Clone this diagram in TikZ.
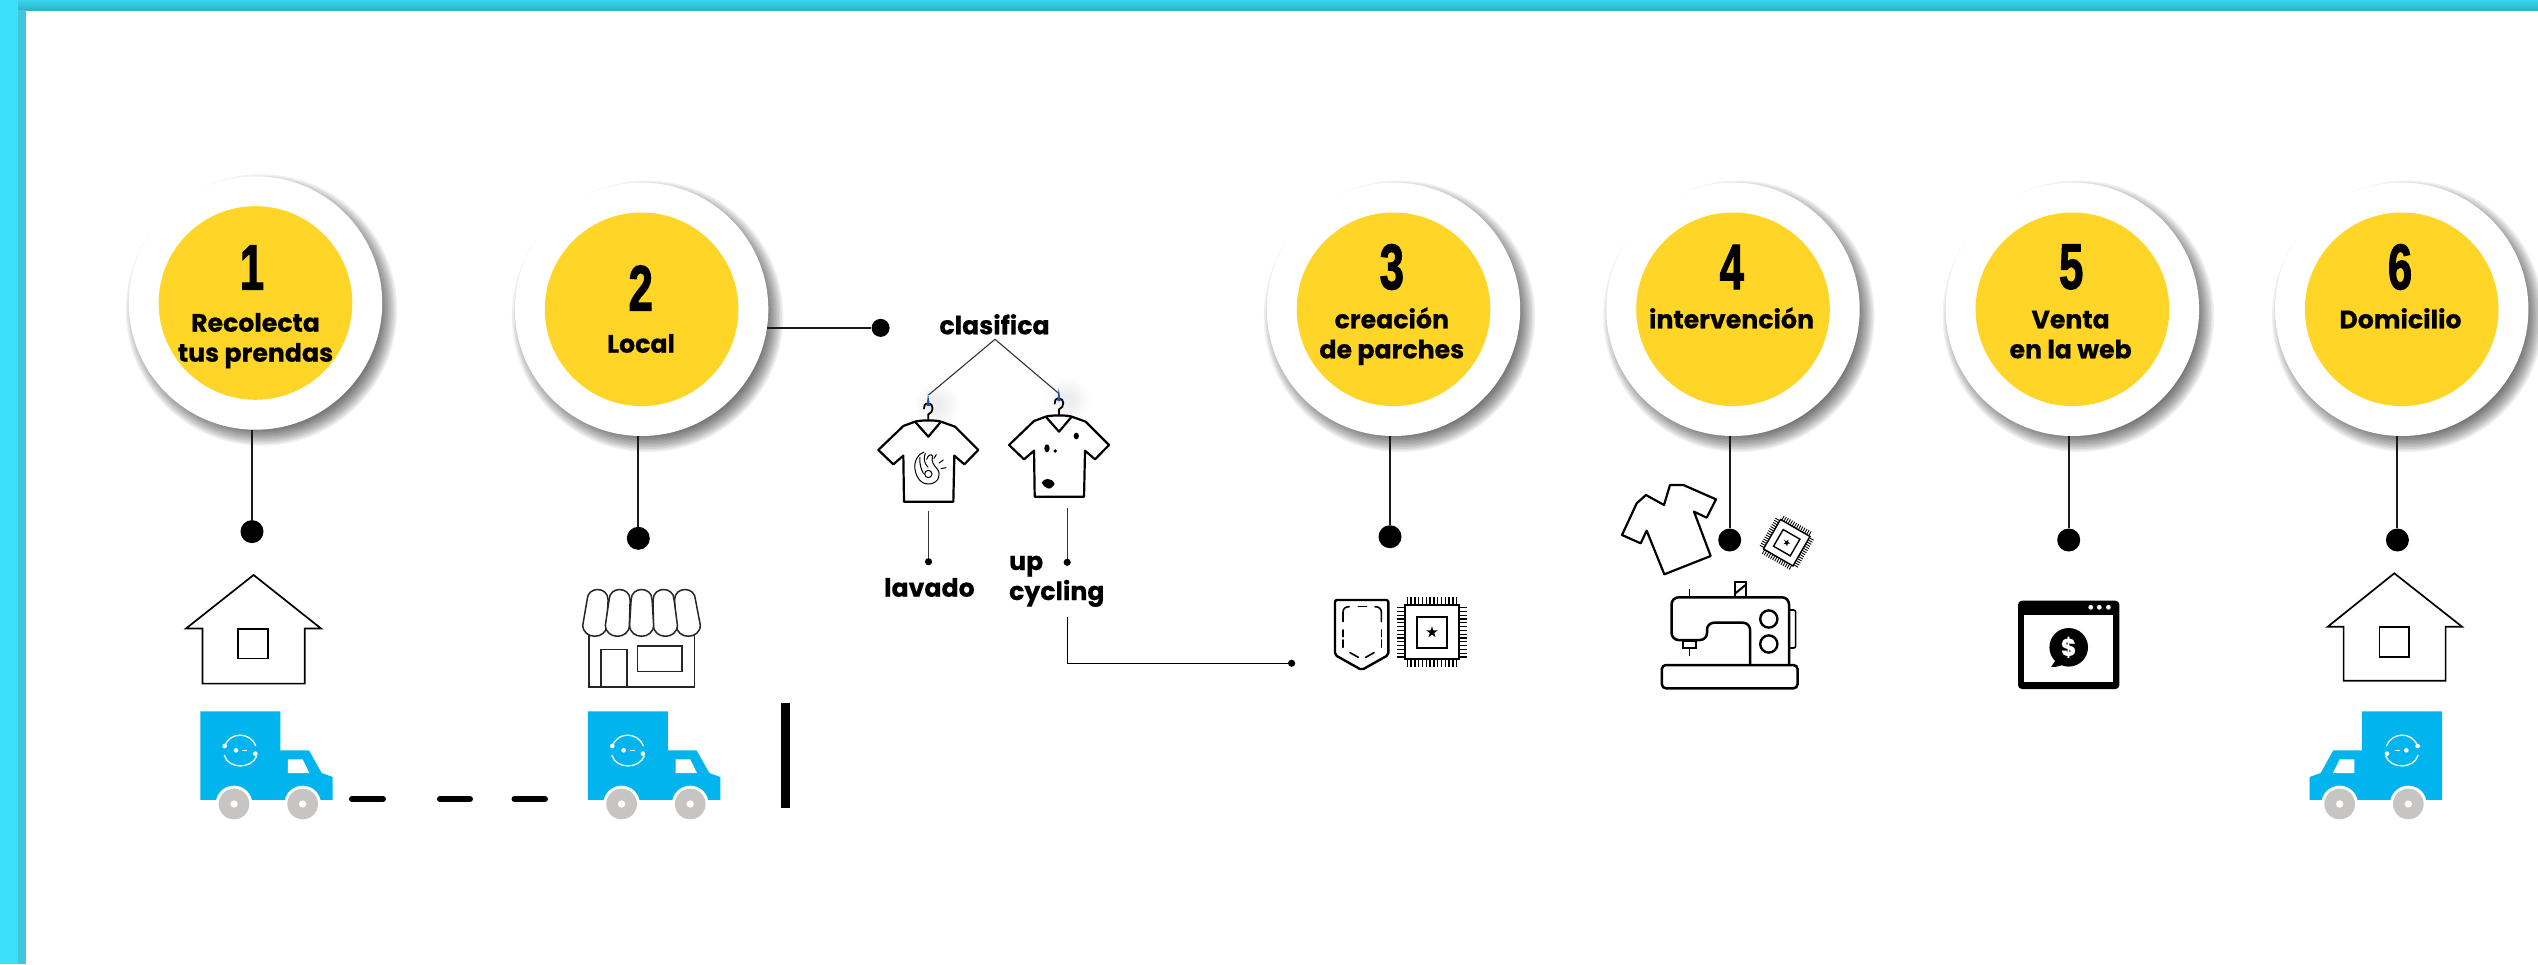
\documentclass[tikz,border=0pt]{standalone}
\usepackage{fontspec}
\setmainfont{Poppins}[BoldFeatures={FakeBold=.5}]
\newfontfamily\digitfont[BoldFeatures={FakeBold=2.2}]{Liberation Sans}
\definecolor{yel}{HTML}{FFD527}
\definecolor{band}{HTML}{3BDFF7}
\definecolor{bandd}{HTML}{3DC6DE}
\definecolor{bandtop}{HTML}{3AD4EC}
\definecolor{bandbot}{HTML}{2CB4CB}
\definecolor{truckblue}{HTML}{00B4EE}
\definecolor{wheel}{HTML}{C6C5C4}
\definecolor{hook}{HTML}{1F4FA8}
\tikzset{
  outer/.style={circle,fill=white,minimum size=253.4pt,inner sep=0pt},
  inner/.style={circle,fill=yel,minimum size=193.6pt,inner sep=0pt},
  bigdot/.style={circle,fill=black,minimum size=23pt,inner sep=0pt},
  middot/.style={circle,fill=black,minimum size=18pt,inner sep=0pt},
  smalldot/.style={circle,fill=black,minimum size=7.2pt,inner sep=0pt},
  num/.style={inner sep=0pt,anchor=center,font=\digitfont\bfseries\fontsize{64}{64}\selectfont},
  lab/.style={inner sep=0pt,anchor=base,align=center,font=\bfseries\fontsize{25.2}{30}\selectfont},
  stem/.style={line width=2pt,black!90},
  thin line/.style={line width=1.1pt,black!80},
  icon/.style={line width=2.2pt,black,line join=round},
  pics/shadow/.style={code={
    \foreach \k in {-9,-7.5,...,9}{\fill[black,opacity=.06] (6,7) circle[radius=126.7+\k];}
  }},
  pics/halo/.style={code={
    \foreach \k in {6,8,...,22}{\fill[black,opacity=.006] (0,0) circle[radius=\k];}
  }},
  pics/truck/.style={code={
    \begin{scope}[scale=.3333]
    \fill[truckblue] (121,94) -- (361,94) -- (361,211) -- (447,211) -- (485,279) -- (518,291) -- (518,360) -- (121,360) -- cycle;
    \fill[white] (384,238) -- (428,238) -- (448,279) -- (384,279) -- cycle;
    \foreach \w in {222,428}{
      \fill[white] (\w,372) circle[radius=55];
    }
    \fill[white] (121,361) rectangle (165,380);
    \fill[white] (280,361) rectangle (370,380);
    \fill[white] (488,361) rectangle (525,380);
    \fill[wheel] (222,372) circle[radius=46];
    \fill[wheel] (428,372) circle[radius=46];
    \fill[white] (222,372) circle[radius=11];
    \fill[white] (428,372) circle[radius=11];
    \draw[white,line width=1.3pt,line cap=round] (195,197) .. controls (210,155) and (270,155) .. (287,197);
    \draw[white,line width=1.3pt,line cap=round] (193,226) .. controls (205,268) and (275,268) .. (290,228);
    \fill[white] (194,198) circle[radius=7];
    \fill[white] (286,221) circle[radius=7];
    \fill[white] (228,211) circle[radius=7];
    \draw[white,line width=1pt] (247,211) -- (262,211);
    \end{scope}
  }},
  pics/tee/.style={code={
    \begin{scope}[scale=.3333]
    \draw[icon,line cap=round,line width=1.8pt] (205,150) -- (205,133) .. controls (222,128) and (222,100) .. (205,100) .. controls (195,100) and (190,108) .. (192,116);
    \fill[hook] (204,70) -- (210,108) -- (200,108) -- cycle;
    \draw[icon] (130,168) -- (165,155) .. controls (180,150) and (230,150) .. (243,155) -- (285,170) -- (355,240) -- (313,283) -- (283,257) -- (280,395) -- (132,395) -- (130,257) -- (100,283) -- (55,240) -- cycle;
    \draw[icon] (165,155) -- (205,200) -- (243,155);
    \end{scope}
  }},
  pics/chip/.style={code={
    \draw[line width=#1] (-27,-27) rectangle (27,27);
    \draw[line width=#1] (-15.3,-15.3) rectangle (15.3,15.3);
    \fill (0,-6) -- (1.35,-1.85) -- (5.7,-1.85) -- (2.18,.7) -- (3.53,4.85) -- (0,2.3) -- (-3.53,4.85) -- (-2.18,.7) -- (-5.7,-1.85) -- (-1.35,-1.85) -- cycle;
    \foreach \i in {0,...,13}{
      \pgfmathsetmacro\p{-24.7+3.8*\i}
      \draw[line width={.62*#1}] (\p,-27) -- (\p,-35);
      \draw[line width={.62*#1}] (\p,27) -- (\p,35);
      \draw[line width={.62*#1}] (-27,\p) -- (-35,\p);
      \draw[line width={.62*#1}] (27,\p) -- (35,\p);
    }
  }}
}
\begin{document}
\begin{tikzpicture}[x=1pt,y=-1pt]
\useasboundingbox (0,0) rectangle (2538,964);
\fill[white] (0,0) rectangle (2538,964);
% page border
\shade[top color=bandtop,bottom color=bandbot] (18,0) rectangle (2538,10);
\fill[bandd] (18,10) rectangle (25.5,964);
\fill[band] (0,0) rectangle (18,964);

% big circles
\pic at (255.5,303) {shadow};
\pic at (641.6,309.3) {shadow};
\pic at (1393.5,309.3) {shadow};
\pic at (1733,309.3) {shadow};
\pic at (2072.4,309.3) {shadow};
\pic at (2401.7,309.3) {shadow};
\node[outer] (c1) at (255.5,303) {};
\node[outer] (c2) at (641.6,309.3) {};
\node[outer] (c3) at (1393.5,309.3) {};
\node[outer] (c4) at (1733,309.3) {};
\node[outer] (c5) at (2072.4,309.3) {};
\node[outer] (c6) at (2401.7,309.3) {};
\node[inner] (y1) at (255.5,303) {};
\node[inner] (y2) at (641.6,309.3) {};
\node[inner] (y3) at (1393.5,309.3) {};
\node[inner] (y4) at (1733,309.3) {};
\node[inner] (y5) at (2072.4,309.3) {};
\node[inner] (y6) at (2401.7,309.3) {};

% digits
\node[num,xscale=.68] (n1) at (252,267.5) {1};
\node[num,xscale=.68] (n2) at (640.7,288) {2};
\node[num,xscale=.68] (n3) at (1391.8,267) {3};
\node[num,xscale=.68] (n4) at (1731.8,267) {4};
\node[num,xscale=.68] (n5) at (2071.2,267) {5};
\node[num,xscale=.68] (n6) at (2400,267) {6};

% labels
\node[lab] (t1) at (255.5,361.7) {Recolecta\\tus prendas};
\node[lab] (t2) at (641,352.7) {Local};
\node[lab] (t3) at (1391.8,358.3) {creación\\de parches};
\node[lab] (t4) at (1731.5,328.3) {intervención};
\node[lab] (t5) at (2070.6,358.3) {Venta\\en la web};
\node[lab] (t6) at (2400.5,328.3) {Domicilio};

% stems and dots
\node[bigdot] (d1) at (252,531.6) {};
\node[bigdot] (d2) at (638.3,538.3) {};
\node[bigdot] (d3) at (1390,536.7) {};
\node[bigdot] (d4) at (1729.7,540) {};
\node[bigdot] (d5) at (2068.7,540) {};
\node[bigdot] (d6) at (2397.4,540) {};
\draw[stem] (d1 |- c1.south) -- (d1);
\draw[stem] (d2 |- c2.south) -- (d2);
\draw[stem] (d3 |- c3.south) -- (d3);
\draw[stem] (d4 |- c4.south) -- (d4);
\draw[stem] (d5 |- c5.south) -- (d5);
\draw[stem] (d6 |- c6.south) -- (d6);
\node[middot] (d2b) at (880.6,327.9) {};
\draw[stem] (c2.-8.6 |- d2b) -- (d2b);

% clasifica
\node[lab] (tc) at (994.5,334.3) {clasifica};
\coordinate (apex) at (995,339.3);
\coordinate (hl) at (928.5,395);
\coordinate (hr) at (1058.6,393.3);
\pic at (937,405) {halo};
\pic at (1068,400) {halo};
\draw[thin line] (apex) -- (hl);
\draw[thin line] (apex) -- (hr);
\pic at (860,370) {tee};
\pic at (990.7,365) {tee};
% hand on the first shirt
\begin{scope}[shift={(860,370)},scale=.3333,line width=1pt,line cap=round]
  \draw (192,246) .. controls (178,250) and (160,272) .. (165,298) .. controls (170,330) and (190,345) .. (210,342) .. controls (236,338) and (246,312) .. (230,295) .. controls (222,285) and (212,275) .. (218,258) .. controls (212,250) and (204,256) .. (200,268);
  \draw (205,312) circle[radius=11];
  \draw (180,262) .. controls (178,280) and (182,296) .. (190,310);
  \draw (196,250) .. controls (190,262) and (192,280) .. (204,292);
  \draw (222,265) -- (229,254);
  \draw (237,279) -- (250,270);
  \draw (243,296) -- (258,293);
\end{scope}
% stains on the second shirt
\begin{scope}[shift={(860,370)},scale=.3333]
  \fill (561,235) ellipse[x radius=8,y radius=12];
  \fill (586,243) circle[radius=5.5];
  \fill (649,198) ellipse[x radius=8,y radius=10];
  \fill (545,338) .. controls (550,325) and (575,320) .. (584,342) .. controls (578,352) and (570,358) .. (563,355) .. controls (555,352) and (548,346) .. (545,338) -- cycle;
\end{scope}

\coordinate (la) at (928.5,511);
\node[smalldot] (lb) at (928.5,561.7) {};
\draw[thin line] (la) -- (lb);
\coordinate (ra) at (1067.2,508.3);
\node[smalldot] (rb) at (1067.2,562.3) {};
\draw[thin line] (ra) -- (rb);
\node[lab] (tl) at (929.4,596.7) {lavado};
\node[lab,anchor=base west,align=left] (tu) at (1008.9,600) {up\\cycling};
\coordinate (ua) at (1067.2,616.7);
\node[smalldot] (ub) at (1291.6,663.3) {};
\draw[line width=1.4pt,black] (ua) |- (ub);

% patch pocket
\begin{scope}[shift={(1310,580)},scale=.3333,line join=round]
  \draw[line width=2.4pt,rounded corners=2pt] (75,60) -- (235,60) -- (235,225) -- (155,270) -- (75,225) -- cycle;
  \draw[line width=1.6pt,line cap=round] (99,125) -- (99,97) .. controls (99,86) and (106,80) .. (118,80);
  \draw[line width=1.6pt,line cap=round] (145,80) -- (170,80);
  \draw[line width=1.6pt,line cap=round] (195,80) .. controls (207,80) and (214,86) .. (214,97) -- (214,125);
  \draw[line width=1.6pt,line cap=round] (99,150) -- (99,170);
  \draw[line width=1.6pt,line cap=round] (99,180) -- (99,202);
  \draw[line width=1.6pt,line cap=round] (214,150) -- (214,170);
  \draw[line width=1.6pt,line cap=round] (214,180) -- (214,202);
  \draw[line width=1.6pt,line cap=round] (120,218) -- (145,232);
  \draw[line width=1.6pt,line cap=round] (167,232) -- (192,218);
\end{scope}
\pic at (1432,632.3) {chip=2.2};

% loose shirt and chip at step 4
\begin{scope}[shift={(1610,470)},scale=.3333]
  \draw[icon] (180,45) -- (220,45) -- (318,88) -- (290,143) -- (252,125) -- (302,258) -- (163,313) -- (110,182) -- (92,220) -- (36,195) -- (80,100) -- (108,75) -- (162,105) -- cycle;
\end{scope}
\pic[rotate=-30,scale=.63] at (1786.7,542.7) {chip=1.4};

% sewing machine
\draw[line width=2.5pt,rounded corners=4pt] (1661.9,688.3) -- (1661.9,665) -- (1797.5,665) -- (1797.5,688.3) -- cycle;
\draw[line width=2.5pt,rounded corners=7pt] (1750,665) -- (1750,622.7) -- (1707,622.7) -- (1707,640) -- (1671.6,640) -- (1671.6,597.3) -- (1789,597.3) -- (1789,665);
\draw[line width=2.2pt,fill=white] (1682.6,641) rectangle (1696,648);
\draw[line width=1.6pt] (1689.3,648) -- (1689.3,656);
\draw[line width=1.6pt] (1689.3,589) -- (1689.3,597.3);
\draw[line width=2pt] (1734.5,597.3) -- (1734.5,582.3) -- (1745.5,582.3) -- (1745.5,597.3);
\draw[line width=2pt] (1734.5,594) -- (1745.5,585);
\draw[line width=2.4pt] (1768.8,619) circle[radius=8.6];
\draw[line width=2.4pt] (1768.8,644) circle[radius=8.6];
\draw[line width=1.6pt,rounded corners=2pt] (1789,610) -- (1795.6,610) -- (1795.6,648) -- (1789,648);

% web window
\fill[rounded corners=4pt] (2018,600.7) rectangle (2119.4,689);
\fill[white] (2024,614.7) rectangle (2113.3,682.3);
\fill[white] (2090.7,607.3) circle[radius=2.4];
\fill[white] (2099.3,607.3) circle[radius=2.4];
\fill[white] (2108.4,607.3) circle[radius=2.4];
\fill (2068.7,647.3) circle[radius=19.3];
\fill (2056,660) -- (2051,667) .. controls (2058,667) and (2062,666) .. (2066,662) -- cycle;
\node[inner sep=0pt,text=white,font=\bfseries\fontsize{24}{24}\selectfont] (dollar) at (2068.7,647.3) {\$};

% houses
\draw[line width=1.7pt,line join=miter] (253.6,575) -- (321,628.5) -- (304.8,628.5) -- (304.8,683.6) -- (202.4,683.6) -- (202.4,628.5) -- (186,628.5) -- cycle;
\draw[line width=1.7pt] (238.3,629) rectangle (268,658.5);
\draw[line width=1.7pt,line join=miter] (2394.3,573.3) -- (2462,626.7) -- (2445.6,626.7) -- (2445.6,680.7) -- (2343.6,680.7) -- (2343.6,626.7) -- (2327.7,626.7) -- cycle;
\draw[line width=1.7pt] (2379.6,626.7) rectangle (2409,656.7);

% store
\begin{scope}[line width=1.5pt,black!85]
  \draw (589,630) -- (589,686.8) -- (694.3,686.8) -- (694.3,630);
  \draw (601,686.8) -- (601,649.5) -- (626.8,649.5) -- (626.8,686.8);
  \draw (637.3,646) rectangle (681.8,671.5);
  \foreach \t/\b in {597.6/594.8,685/688.3,619.6/617.4,663.6/665.4,641.6/641.6}{
    \draw[fill=white] (\b-12,625) -- (\t-10.5,600) .. controls (\t-10.5,586) and (\t+10.5,586) .. (\t+10.5,600) -- (\b+12,625) .. controls (\b+12,640) and (\b-12,640) .. (\b-12,625) -- cycle;
  }
\end{scope}

% trucks
\pic at (160,680) {truck};
\pic at (547.6,680) {truck};
\pic[xscale=-1] at (2482.3,680) {truck};

% dashes and bar
\draw[line width=6pt,line cap=round] (352,799) -- (383,799);
\draw[line width=6pt,line cap=round] (440,799) -- (470,799);
\draw[line width=6pt,line cap=round] (514.5,799) -- (545,799);
\fill (780.9,703) rectangle (790,808);
\end{tikzpicture}
\end{document}
